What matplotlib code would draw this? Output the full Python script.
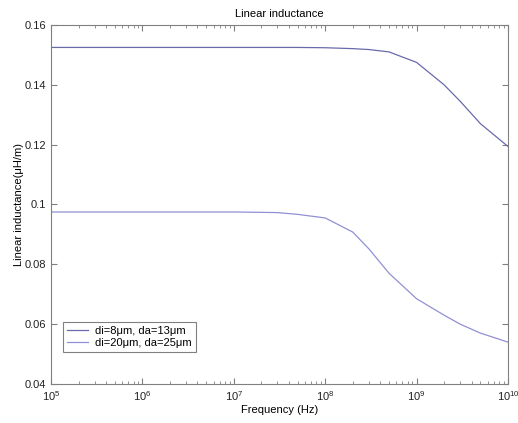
import matplotlib
matplotlib.use('Agg')
import matplotlib.pyplot as plt
from matplotlib.ticker import FormatStrFormatter, LogLocator

plt.rcParams['font.family'] = ['Liberation Sans', 'DejaVu Sans']

freq = [1e5, 1e6, 1e7, 3e7, 5e7, 1e8, 2e8, 3e8, 5e8, 1e9, 2e9, 3e9, 5e9, 1e10]
L1 = [0.1525, 0.1525, 0.1525, 0.1525, 0.1525, 0.1524, 0.1521, 0.1518, 0.1510,
      0.1475, 0.1400, 0.1345, 0.1270, 0.1194]
L2 = [0.0975, 0.0975, 0.0975, 0.0973, 0.0967, 0.0955, 0.0908, 0.0852, 0.0770,
      0.0685, 0.0630, 0.0600, 0.0570, 0.0540]
labels = ['di=8\u03bcm, da=13\u03bcm', 'di=20\u03bcm, da=25\u03bcm']

fig = plt.figure(figsize=(5.18, 4.23), dpi=100)
ax = fig.add_axes([51 / 518, 39 / 423, 457 / 518, 359 / 423])

ax.semilogx(freq, L1, color='#6a6aaa', linewidth=0.9, label=labels[0])
ax.semilogx(freq, L2, color='#9090d4', linewidth=0.9, label=labels[1])

ax.set_xlim(1e5, 1e10)
ax.set_ylim(0.04, 0.16)
ax.set_yticks([0.04, 0.06, 0.08, 0.1, 0.12, 0.14, 0.16])
ax.yaxis.set_major_formatter(FormatStrFormatter('%g'))
ax.xaxis.set_major_locator(LogLocator(base=10, numticks=10))
ax.xaxis.set_minor_locator(LogLocator(base=10, subs=range(2, 10), numticks=20))

for s in ax.spines.values():
    s.set_color('#808080')
    s.set_linewidth(0.8)
ax.tick_params(which='both', direction='in', top=True, right=True,
               colors='#808080', labelcolor='#222222', labelsize=8)
ax.tick_params(which='major', length=4)
ax.tick_params(which='minor', length=2)

ax.set_title('Linear inductance', fontsize=8, pad=6)
ax.set_xlabel('Frequency (Hz)', fontsize=8, labelpad=2)
ax.set_ylabel('Linear inductance(\u03bcH/m)', fontsize=8, labelpad=0.5)

leg = ax.legend(loc='lower left', bbox_to_anchor=(0.026, 0.088), fontsize=8,
                fancybox=False, framealpha=1, edgecolor='#808080',
                borderaxespad=0, borderpad=0.4, labelspacing=0.15,
                handlelength=1.9, handletextpad=0.6)
leg.get_frame().set_linewidth(0.8)

plt.savefig('out.png', dpi=100)
plt.close()
